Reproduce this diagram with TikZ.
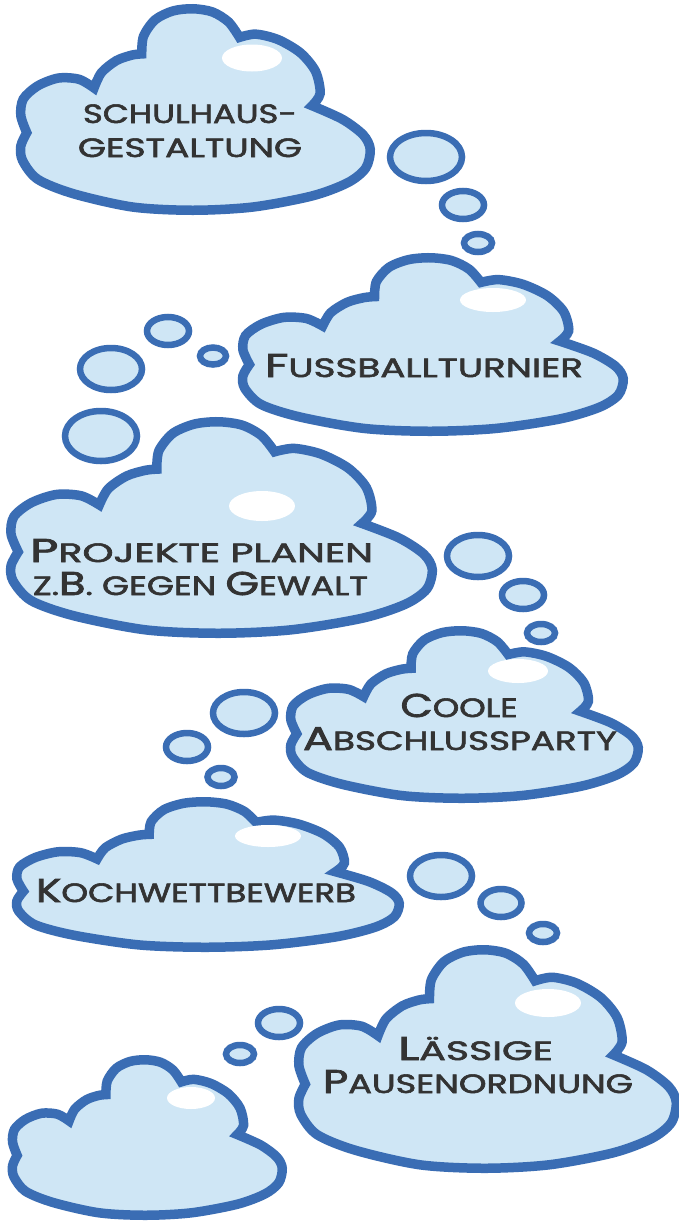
\documentclass[tikz,border=0pt]{standalone}
\usepackage{fontspec}
\setmainfont{Poppins}[FakeBold=2]
\usepackage{graphicx}
\definecolor{cloudblue}{HTML}{3A6DB4}
\definecolor{cloudfill}{HTML}{CFE6F5}
\definecolor{txtgray}{HTML}{333333}
\newcommand\SCsize{\fontsize{26.5}{26.5}\selectfont}
\newcommand\BC[1]{{\fontsize{33}{33}\selectfont #1}}
\newcommand\fitw[2]{\resizebox{#1}{\height}{#2}}
\tikzset{
  cloudline/.style={draw=cloudblue, fill=cloudfill, line width=9.5pt},
  bubble/.style={draw=cloudblue, fill=cloudfill, line width=6.5pt},
  shine/.style={fill=white},
  cloudtext/.style={inner sep=0pt, anchor=base, text=txtgray, font=\SCsize},
}
\newcommand\drawcloud[4]{%
  \begin{scope}[shift={(#1,#2)}, xscale=#3, yscale=#4]
    \path[cloudline]
      plot[smooth] coordinates {(0.020,0.615) (0.003,0.530) (0.010,0.448) (0.051,0.383) (0.110,0.344) (0.169,0.350) (0.212,0.393)}
      -- plot[smooth] coordinates {(0.212,0.393) (0.233,0.317) (0.276,0.257) (0.320,0.230) (0.348,0.224)}
      -- plot[smooth] coordinates {(0.348,0.224) (0.353,0.137) (0.386,0.055) (0.437,0.011) (0.494,0.0) (0.550,0.016) (0.596,0.066) (0.627,0.142)}
      -- plot[smooth] coordinates {(0.627,0.142) (0.673,0.126) (0.737,0.153) (0.801,0.219) (0.844,0.311) (0.857,0.421) (0.834,0.481)}
      -- plot[smooth] coordinates {(0.834,0.481) (0.921,0.549) (0.980,0.626) (1.0,0.698) (0.987,0.791) (0.936,0.863) (0.834,0.929) (0.665,0.984) (0.494,1.0) (0.322,0.984) (0.153,0.918) (0.051,0.846) (0.008,0.753) (0.003,0.681) (0.020,0.615)}
      -- cycle;
  \end{scope}}
\begin{document}
\begin{tikzpicture}[x=1pt, y=-1pt]
  \useasboundingbox[fill=white] (0,0) rectangle (679,1221);
  % clouds
  \drawcloud{19.75}{8.75}{350.5}{201.5}
  \drawcloud{241.75}{257.75}{381.5}{173.5}
  \drawcloud{9.75}{421.75}{422.5}{211.5}
  \drawcloud{289.75}{630.75}{348.5}{167.5}
  \drawcloud{15.75}{801.75}{383.5}{145.5}
  \drawcloud{297.75}{949.75}{378.5}{218.5}
  \drawcloud{11.75}{1059.75}{270.5}{155.5}
  % highlights
  \fill[shine] (252,58) ellipse [x radius=30, y radius=13.5];
  \fill[shine] (493,300) ellipse [x radius=33, y radius=12];
  \fill[shine] (262,506) ellipse [x radius=33, y radius=15];
  \fill[shine] (518,671) ellipse [x radius=30, y radius=12];
  \fill[shine] (268,836) ellipse [x radius=33, y radius=11];
  \fill[shine] (548,1003) ellipse [x radius=33, y radius=14];
  \fill[shine] (191,1098) ellipse [x radius=24, y radius=11];
  % bubbles
  \path[bubble] (426,157) ellipse [x radius=36, y radius=24];
  \path[bubble] (463,205) ellipse [x radius=21, y radius=14];
  \path[bubble] (478,243) ellipse [x radius=14, y radius=9];
  \path[bubble] (168,331) ellipse [x radius=21, y radius=14];
  \path[bubble] (213,356) ellipse [x radius=13, y radius=8.5];
  \path[bubble] (111,369) ellipse [x radius=31, y radius=21];
  \path[bubble] (101,436) ellipse [x radius=36, y radius=25];
  \path[bubble] (478,556) ellipse [x radius=31, y radius=21];
  \path[bubble] (523,595) ellipse [x radius=21, y radius=14];
  \path[bubble] (541,633) ellipse [x radius=14, y radius=9];
  \path[bubble] (244,713) ellipse [x radius=31, y radius=21];
  \path[bubble] (187,747) ellipse [x radius=21, y radius=14];
  \path[bubble] (221,777) ellipse [x radius=13.5, y radius=9];
  \path[bubble] (441,876) ellipse [x radius=31, y radius=21];
  \path[bubble] (501,903) ellipse [x radius=20.5, y radius=14];
  \path[bubble] (543,933) ellipse [x radius=14, y radius=9];
  \path[bubble] (279,1023) ellipse [x radius=21, y radius=14];
  \path[bubble] (240,1054) ellipse [x radius=14, y radius=9];
  % texts
  \node[cloudtext] (t1a) at (190,123) {\fitw{214pt}{SCHULHAUS-}};
  \node[cloudtext] (t1b) at (190,157) {\fitw{224pt}{GESTALTUNG}};
  \node[cloudtext] (t2) at (424,377) {\fitw{318pt}{\BC{F}USSBALLTURNIER}};
  \node[cloudtext] (t3a) at (201.5,562) {\fitw{343pt}{\BC{P}ROJEKTE PLANEN}};
  \node[cloudtext] (t3b) at (200.5,595) {\fitw{335pt}{Z.\BC{B}. GEGEN \BC{G}EWALT}};
  \node[cloudtext] (t4a) at (459,717) {\fitw{117pt}{\BC{C}OOLE}};
  \node[cloudtext] (t4b) at (460,750) {\fitw{314pt}{\BC{A}BSCHLUSSPARTY}};
  \node[cloudtext] (t5) at (196,902) {\fitw{320pt}{\BC{K}OCHWETTBEWERB}};
  \node[cloudtext] (t6a) at (475.5,1060) {\fitw{155pt}{\BC{L}ÄSSIGE}};
  \node[cloudtext] (t6b) at (478,1093) {\fitw{310pt}{\BC{P}AUSENORDNUNG}};
\end{tikzpicture}
\end{document}
